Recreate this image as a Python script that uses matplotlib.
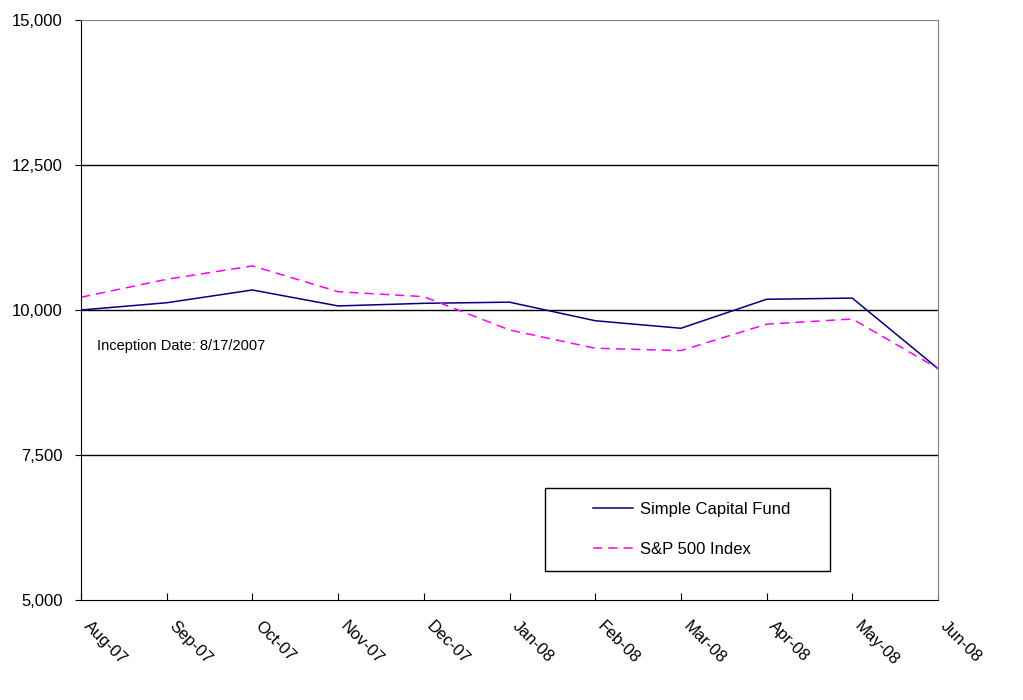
import matplotlib.pyplot as plt
import matplotlib.transforms as mtransforms
from matplotlib.patches import Rectangle
from matplotlib.ticker import FuncFormatter

plt.rcParams['font.family'] = ['Liberation Sans', 'DejaVu Sans']

months = ['Aug-07', 'Sep-07', 'Oct-07', 'Nov-07', 'Dec-07', 'Jan-08',
          'Feb-08', 'Mar-08', 'Apr-08', 'May-08', 'Jun-08']
fund = [10000, 10125, 10345, 10070, 10115, 10135, 9815, 9685, 10185, 10205, 8990]
sp500 = [10220, 10530, 10760, 10315, 10230, 9655, 9340, 9300, 9755, 9845, 8990]

fig = plt.figure(figsize=(10.23, 7.0), dpi=100)
ax = fig.add_axes([0.0792, 0.1429, 0.8377, 0.8285])

x = list(range(len(months)))
ax.plot(x, fund, color='#000080', lw=1.1, label='Simple Capital Fund')
ax.plot(x, sp500, color='#FF00FF', lw=1.1, dashes=(6, 4), label='S&P 500 Index')

ax.set_xlim(0, len(months) - 1)
ax.set_ylim(5000, 15000)
ax.set_yticks([5000, 7500, 10000, 12500, 15000])
ax.yaxis.set_major_formatter(FuncFormatter(lambda v, p: f'{v:,.0f}'))
for yv in [7500, 10000, 12500]:
    ax.axhline(yv, color='black', lw=1.0, zorder=0)

ax.set_xticks(x)
ax.set_xticklabels(months, rotation=-45, ha='left', va='center',
                   rotation_mode='anchor', fontsize=12)
ax.tick_params(axis='x', direction='in', length=5, pad=17)
ax.tick_params(axis='y', direction='out', length=4, labelsize=12, pad=9)
shift = mtransforms.ScaledTranslation(5 / 100, 0, fig.dpi_scale_trans)
for lbl in ax.get_xticklabels():
    lbl.set_transform(lbl.get_transform() + shift)

ax.spines['top'].set_color('#808080')
ax.spines['right'].set_color('#808080')
ax.spines['left'].set_color('black')
ax.spines['bottom'].set_color('black')

ax.text(0.019, 0.438, 'Inception Date: 8/17/2007', transform=ax.transAxes,
        fontsize=10.5, va='center', ha='left')

# legend box drawn separately so the entries can sit inset like the original
ax.add_patch(Rectangle((0.5414, 0.05), 0.3326, 0.143, transform=ax.transAxes,
                       fill=True, facecolor='white', edgecolor='black',
                       lw=1.0, zorder=3))
leg = ax.legend(loc='center left', bbox_to_anchor=(0.5974, 0.1216),
                fontsize=12, frameon=False, handlelength=2.4,
                handletextpad=0.45, labelspacing=1.5, borderpad=0,
                borderaxespad=0)
leg.set_zorder(4)

fig.savefig('out.png', dpi=100)
